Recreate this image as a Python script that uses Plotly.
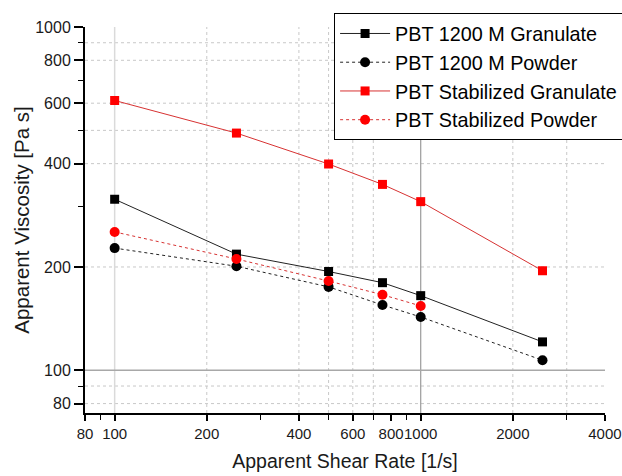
import numpy as np
import plotly.graph_objects as go

# ---- data ----
shear_rate = [100, 250, 500, 750, 1000, 2500]
pbt1200_granulate = [315, 218, 194, 180, 165, 121]
pbt1200_powder = [227, 201, 175, 155, 143, 107]
stab_granulate = [611, 491, 399, 348, 310, 195]
stab_powder = [253, 211, 182, 166, 154]

x_major = [80, 100, 200, 400, 600, 800, 1000, 2000, 4000]
x_minor = [90, 300, 500, 700, 900, 3000]
y_major = [80, 100, 200, 400, 600, 800, 1000]
y_minor = [90, 300, 500, 700, 900]

x_grid_dot = [200, 400, 500, 600, 700, 2000, 3000]
y_grid_dot = [80, 90, 200, 400, 500, 600, 800, 900]

FONT = "Liberation Sans, Arial, sans-serif"

fig = go.Figure()
fig.add_trace(go.Scatter(x=shear_rate, y=pbt1200_granulate, name="PBT 1200 M Granulate",
                         mode="lines+markers",
                         line=dict(color="#222222", width=1),
                         marker=dict(symbol="square", size=9, color="black")))
fig.add_trace(go.Scatter(x=shear_rate, y=pbt1200_powder, name="PBT 1200 M Powder",
                         mode="lines+markers",
                         line=dict(color="#222222", width=1, dash="dot"),
                         marker=dict(symbol="circle", size=10, color="black")))
fig.add_trace(go.Scatter(x=shear_rate, y=stab_granulate, name="PBT Stabilized Granulate",
                         mode="lines+markers",
                         line=dict(color="rgb(215,50,50)", width=1),
                         marker=dict(symbol="square", size=9, color="red")))
fig.add_trace(go.Scatter(x=shear_rate[:len(stab_powder)], y=stab_powder, name="PBT Stabilized Powder",
                         mode="lines+markers",
                         line=dict(color="rgb(215,50,50)", width=1, dash="dot"),
                         marker=dict(symbol="circle", size=10, color="red")))

shapes = []
for v in x_grid_dot:
    shapes.append(dict(type="line", xref="x", yref="paper", x0=v, x1=v,
                       y0=0, y1=1, layer="below", line=dict(color="#c8c8c8", width=1, dash="dot")))
for v in y_grid_dot:
    shapes.append(dict(type="line", xref="paper", yref="y", x0=0, x1=1, y0=v, y1=v,
                       layer="below", line=dict(color="#c8c8c8", width=1, dash="dot")))
# decade lines
shapes.append(dict(type="line", xref="x", yref="paper", x0=100, x1=100, y0=0, y1=1,
                   layer="below", line=dict(color="#dadada", width=1.5)))
shapes.append(dict(type="line", xref="x", yref="paper", x0=1000, x1=1000, y0=0, y1=1,
                   layer="below", line=dict(color="#9a9a9a", width=1.2)))
shapes.append(dict(type="line", xref="paper", yref="y", x0=0, x1=1, y0=100, y1=100,
                   layer="below", line=dict(color="#a8a8a8", width=1.5)))

fig.update_layout(
    width=622, height=476,
    margin=dict(l=85, r=17, t=27, b=63, autoexpand=False),
    paper_bgcolor="white", plot_bgcolor="white",
    font=dict(family=FONT, color="#1a1a1a"),
    shapes=shapes,
    showlegend=True,
    legend=dict(x=0.479, y=1.036, xanchor="left", yanchor="top",
                bgcolor="white", bordercolor="black", borderwidth=1,
                font=dict(family=FONT, size=19.8, color="black"),
                itemwidth=50, tracegroupgap=0),
    xaxis=dict(type="log", range=[np.log10(80), np.log10(4000) + 1e-4],
               tickmode="array", tickvals=x_major, ticktext=[str(v) for v in x_major],
               tickangle=0, automargin=False, ticklabeloverflow="allow",
               ticks="outside", ticklen=6, tickwidth=1.5, tickcolor="black",
               showgrid=False, showline=True, linecolor="black", linewidth=2,
               tickfont=dict(size=15, family=FONT, color="#1a1a1a"),
               minor=dict(tickmode="array", tickvals=x_minor, ticks="outside", ticklen=5,
                          tickwidth=1.2, tickcolor="black", showgrid=False),
               title=dict(text="Apparent Shear Rate [1/s]", font=dict(size=19.5, family=FONT),
                          standoff=13),
               zeroline=False),
    yaxis=dict(type="log", range=[np.log10(75.1), 3 + 1e-4],
               tickmode="array", tickvals=y_major, ticktext=[str(v) for v in y_major],
               automargin=False,
               ticks="outside", ticklen=9, tickwidth=1.5, tickcolor="black",
               showgrid=False, showline=True, linecolor="black", linewidth=2,
               tickfont=dict(size=16, family=FONT, color="#1a1a1a"),
               minor=dict(tickmode="array", tickvals=y_minor, ticks="outside", ticklen=5,
                          tickwidth=1.2, tickcolor="black", showgrid=False),
               title=dict(text="Apparent Viscosity [Pa s]", font=dict(size=20.5, family=FONT),
                          standoff=0),
               zeroline=False),
)

fig.write_html("out.html")
